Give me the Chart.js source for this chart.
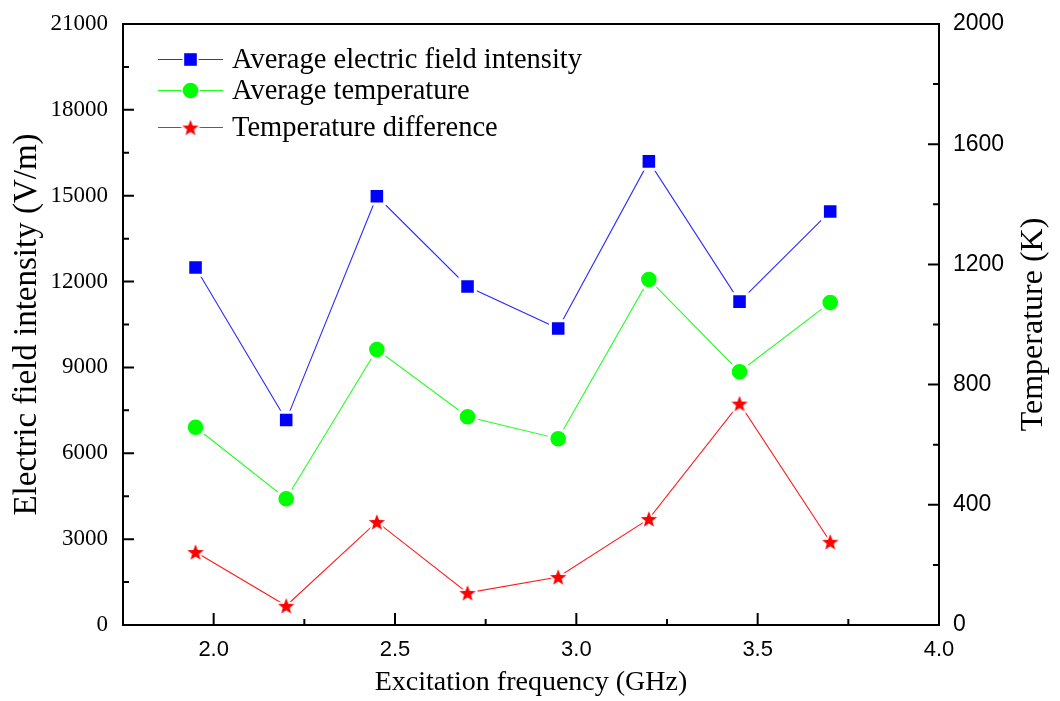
<!DOCTYPE html>
<html>
<head>
<meta charset="utf-8">
<script src="https://cdn.jsdelivr.net/npm/chart.js@4.4.1/dist/chart.umd.min.js"></script>
<style>
  html, body { margin: 0; padding: 0; background: #fff; }
</style>
</head>
<body>
<canvas id="freqChart" width="1060" height="701"></canvas>
<script>
// data
const frequencies = [1.95, 2.2, 2.45, 2.7, 2.95, 3.2, 3.45, 3.7];
const fieldIntensity = [12490, 7160, 14980, 11830, 10360, 16200, 11300, 14450];
const avgTemperature = [658, 420, 917, 693, 620, 1150, 843, 1073];
const tempDifference = [243, 64, 343, 107, 160, 353, 737, 277];

const xTickValues = [2.0, 2.5, 3.0, 3.5, 4.0];
const leftTickValues = [0, 3000, 6000, 9000, 12000, 15000, 18000, 21000];
const rightTickValues = [0, 400, 800, 1200, 1600, 2000];

const seriesNames = ['Average electric field intensity', 'Average temperature', 'Temperature difference'];

const serif = '"Liberation Serif", "Times New Roman", serif';
const sans = '"Liberation Sans", Arial, sans-serif';

// filled star with a white halo (gives the little gap where the line meets the marker)
function makeStar(color, R) {
    const c = document.createElement('canvas');
    const size = Math.ceil(R * 2 + 8);
    c.width = size; c.height = size;
    const g = c.getContext('2d');
    g.translate(size / 2, size / 2 + 0.8);
    g.beginPath();
    for (let i = 0; i < 10; i++) {
        const r = i % 2 === 0 ? R : R * 0.42;
        const a = -Math.PI / 2 + i * Math.PI / 5;
        g.lineTo(r * Math.cos(a), r * Math.sin(a));
    }
    g.closePath();
    g.lineWidth = 4;
    g.strokeStyle = '#fff';
    g.lineJoin = 'round';
    g.stroke();
    g.fillStyle = color;
    g.fill();
    return c;
}
const redStar = makeStar('#ff0000', 8.6);

function pairs(ys) {
    return frequencies.map((x, i) => ({ x: x, y: ys[i] }));
}

function minorTicks(major) {
    const out = [];
    for (let i = 0; i < major.length - 1; i++) out.push((major[i] + major[i + 1]) / 2);
    return out;
}

function noPadding(s) {
    s.paddingTop = 0; s.paddingBottom = 0; s.paddingLeft = 0; s.paddingRight = 0;
}

function drawLegendMarker(ctx, kind, x, y, color) {
    ctx.save();
    if (kind === 'rect') {
        ctx.fillStyle = '#fff';
        ctx.fillRect(x - 8, y - 8, 16, 16);
        ctx.fillStyle = color;
        ctx.fillRect(x - 6.3, y - 6.3, 12.6, 12.6);
    } else if (kind === 'circle') {
        ctx.fillStyle = '#fff';
        ctx.beginPath(); ctx.arc(x, y, 9.5, 0, Math.PI * 2); ctx.fill();
        ctx.fillStyle = color;
        ctx.beginPath(); ctx.arc(x, y, 7.8, 0, Math.PI * 2); ctx.fill();
    } else {
        ctx.drawImage(kind, x - kind.width / 2, y - kind.height / 2);
    }
    ctx.restore();
}

// frame, inward ticks, legend and right title
const decorations = {
    id: 'decorations',
    afterDraw(chart) {
        const ctx = chart.ctx;
        const a = chart.chartArea;
        const sx = chart.scales.x, yl = chart.scales.y, yr = chart.scales.y1;
        ctx.save();
        ctx.strokeStyle = '#000';
        ctx.lineWidth = 2;
        ctx.strokeRect(a.left, a.top, a.right - a.left, a.bottom - a.top);

        ctx.beginPath();
        leftTickValues.forEach(v => { const p = yl.getPixelForValue(v); ctx.moveTo(a.left, p); ctx.lineTo(a.left + 11, p); });
        minorTicks(leftTickValues).forEach(v => { const p = yl.getPixelForValue(v); ctx.moveTo(a.left, p); ctx.lineTo(a.left + 6, p); });
        rightTickValues.forEach(v => { const p = yr.getPixelForValue(v); ctx.moveTo(a.right, p); ctx.lineTo(a.right - 11, p); });
        minorTicks(rightTickValues).forEach(v => { const p = yr.getPixelForValue(v); ctx.moveTo(a.right, p); ctx.lineTo(a.right - 6, p); });
        xTickValues.forEach(v => { const p = sx.getPixelForValue(v); ctx.moveTo(p, a.bottom); ctx.lineTo(p, a.bottom - 12); });
        minorTicks(xTickValues).forEach(v => { const p = sx.getPixelForValue(v); ctx.moveTo(p, a.bottom); ctx.lineTo(p, a.bottom - 6); });
        ctx.stroke();

        // legend
        const rows = [59.5, 90.5, 127.5];
        const markers = ['rect', 'circle', redStar];
        chart.data.datasets.forEach((ds, i) => {
            const y = rows[i];
            ctx.strokeStyle = ds.borderColor;
            ctx.lineWidth = 1;
            ctx.beginPath();
            ctx.moveTo(158, y); ctx.lineTo(223, y);
            ctx.stroke();
            drawLegendMarker(ctx, markers[i], 190.5, y, ds.pointBackgroundColor || '#ff0000');
            ctx.fillStyle = '#000';
            ctx.font = '28.5px ' + serif;
            ctx.textAlign = 'left';
            ctx.textBaseline = 'middle';
            ctx.fillText(ds.label, 232, y + 1);
        });

        // right axis title, reading bottom to top like the left one
        ctx.translate(1034, (a.top + a.bottom) / 2);
        ctx.rotate(-Math.PI / 2);
        ctx.fillStyle = '#000';
        ctx.font = '32px ' + serif;
        ctx.textAlign = 'center';
        ctx.textBaseline = 'middle';
        ctx.fillText('Temperature (K)', 0, 0);
        ctx.restore();
    }
};

new Chart(document.getElementById('freqChart'), {
    type: 'line',
    data: {
        datasets: [
            {
                label: seriesNames[0],
                data: pairs(fieldIntensity),
                yAxisID: 'y',
                borderColor: '#2b2bff',
                borderWidth: 1.1,
                pointStyle: 'rect',
                pointRadius: 11,
                pointBackgroundColor: '#0000ff',
                pointBorderColor: '#ffffff',
                pointBorderWidth: 3
            },
            {
                label: seriesNames[1],
                data: pairs(avgTemperature),
                yAxisID: 'y1',
                borderColor: '#22ff22',
                borderWidth: 1.1,
                pointStyle: 'circle',
                pointRadius: 9.3,
                pointBackgroundColor: '#00ff00',
                pointBorderColor: '#ffffff',
                pointBorderWidth: 3
            },
            {
                label: seriesNames[2],
                data: pairs(tempDifference),
                yAxisID: 'y1',
                borderColor: '#ff1a1a',
                borderWidth: 1.1,
                pointStyle: redStar,
                pointRadius: 9
            }
        ]
    },
    options: {
        responsive: false,
        animation: false,
        layout: { padding: { top: 24 } },
        plugins: {
            legend: { display: false },
            tooltip: { enabled: false }
        },
        scales: {
            x: {
                type: 'linear',
                min: 1.75,
                max: 4.0,
                afterBuildTicks: s => { s.ticks = xTickValues.map(v => ({ value: v })); },
                afterFit: s => { s.height = 76; noPadding(s); },
                grid: { display: false, drawTicks: false },
                border: { display: false },
                ticks: {
                    padding: 12,
                    color: '#000',
                    font: { family: sans, size: 22 },
                    callback: v => Number(v).toFixed(1)
                },
                title: {
                    display: true,
                    text: 'Excitation frequency (GHz)',
                    color: '#000',
                    font: { family: serif, size: 28 },
                    padding: { top: 0, bottom: 2 }
                }
            },
            y: {
                position: 'left',
                min: 0,
                max: 21000,
                afterBuildTicks: s => { s.ticks = leftTickValues.map(v => ({ value: v })); },
                afterFit: s => { s.width = 123; noPadding(s); },
                grid: { display: false, drawTicks: false },
                border: { display: false },
                ticks: {
                    padding: 15,
                    color: '#000',
                    font: { family: serif, size: 23 },
                    callback: v => String(v)
                },
                title: {
                    display: true,
                    text: 'Electric field intensity (V/m)',
                    color: '#000',
                    font: { family: serif, size: 33 },
                    padding: { top: 8, bottom: 0 }
                }
            },
            y1: {
                position: 'right',
                min: 0,
                max: 2000,
                afterBuildTicks: s => { s.ticks = rightTickValues.map(v => ({ value: v })); },
                afterFit: s => { s.width = 121; noPadding(s); },
                grid: { display: false, drawTicks: false },
                border: { display: false },
                ticks: {
                    padding: 14,
                    color: '#000',
                    font: { family: sans, size: 23 },
                    callback: v => String(v)
                }
            }
        }
    },
    plugins: [decorations]
});
</script>
</body>
</html>
